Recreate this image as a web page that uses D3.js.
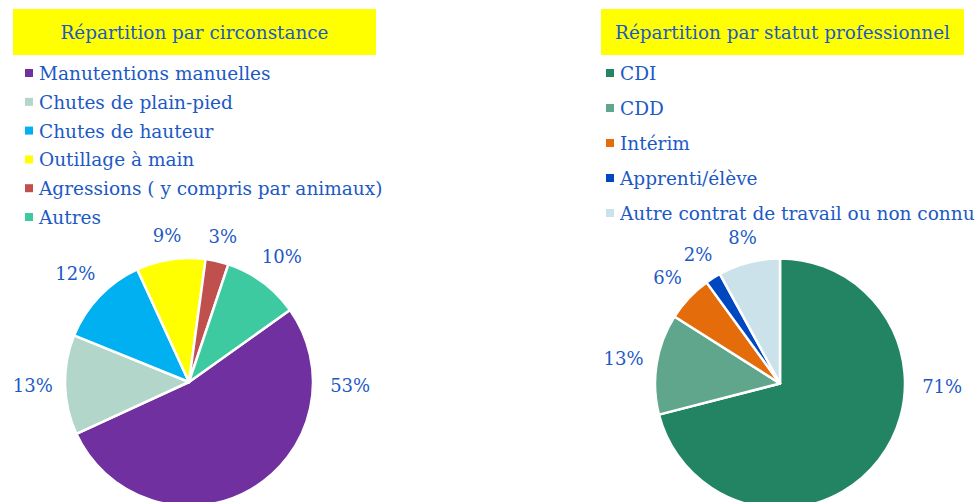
<!DOCTYPE html>
<html>
<head>
<meta charset="utf-8">
<script src="https://cdn.jsdelivr.net/npm/d3@7"></script>
<style>
  body { margin: 0; background: #fff; }
  svg text { font-family: "DejaVu Serif", "Liberation Serif", serif; fill: #1c59c6; }
</style>
</head>
<body>
<div class="container"></div>
<script>
// left chart: circonstance
var circLabels = ["Manutentions manuelles", "Chutes de plain-pied", "Chutes de hauteur",
                  "Outillage à main", "Agressions ( y compris par animaux)", "Autres"];
var circValues = [53, 13, 12, 9, 3, 10];
var circColors = ["#7030a0", "#b3d6ca", "#00b0f0", "#ffff00", "#c0504d", "#3dcaa0"];

// right chart: statut professionnel
var statLabels = ["CDI", "CDD", "Intérim", "Apprenti/élève", "Autre contrat de travail ou non connu"];
var statValues = [71, 13, 6, 2, 8];
var statColors = ["#228462", "#5fa68c", "#e46c0a", "#0048bf", "#cce2ea"];

var width = 976, height = 502;

var svg = d3.select(".container")
  .append("svg")
    .attr("width", width)
    .attr("height", height);

function buildPie(opt) {
  // yellow title box
  svg.append("rect")
    .attr("x", opt.boxX)
    .attr("y", 9)
    .attr("width", opt.boxW)
    .attr("height", 46)
    .attr("fill", "#ffff00");

  svg.append("text")
    .attr("x", opt.boxX + opt.boxW / 2)
    .attr("y", 39)
    .attr("text-anchor", "middle")
    .style("font-size", "18.4px")
    .text(opt.title);

  // legend
  var leg = svg.append("g")
    .attr("transform", "translate(" + opt.legX + "," + opt.legY + ")");

  var row = leg.selectAll("g")
    .data(opt.labels)
    .enter()
    .append("g")
    .attr("transform", function(d, i) { return "translate(0," + (i * opt.legStep) + ")"; });

  row.append("rect")
    .attr("x", 0)
    .attr("y", -4)
    .attr("width", 8)
    .attr("height", 8)
    .attr("fill", function(d, i) { return opt.colors[i]; });

  row.append("text")
    .attr("x", 14)
    .attr("y", 7)
    .style("font-size", "18.5px")
    .text(function(d) { return d; });

  // pie
  var r = opt.r;
  var pie = d3.pie()
    .sort(null)
    .startAngle(opt.start)
    .endAngle(opt.start + 2 * Math.PI)
    .value(function(d) { return d; });

  var arc = d3.arc().innerRadius(0).outerRadius(r);

  var g = svg.append("g")
    .attr("transform", "translate(" + opt.cx + "," + opt.cy + ")");

  var arcs = pie(opt.values);

  g.selectAll("path")
    .data(arcs)
    .enter()
    .append("path")
    .attr("d", arc)
    .attr("fill", function(d, i) { return opt.colors[i]; })
    .attr("stroke", "white")
    .attr("stroke-width", 2.5)
    .attr("stroke-linejoin", "round");

  // % labels at outside end: distance depends on label box size
  // bottom ones are pulled up to the right side (chart is cropped at the bottom)
  g.selectAll("text.pct")
    .data(arcs)
    .enter()
    .append("text")
    .attr("class", "pct")
    .attr("text-anchor", "middle")
    .attr("dy", "0.35em")
    .style("font-size", "18px")
    .text(function(d) { return d.value + "%"; })
    .attr("transform", function(d) {
      var a = ((d.startAngle + d.endAngle) / 2) % (2 * Math.PI);
      var gap = 12;
      if (a > Math.PI / 2 && a < Math.PI * 1.35) { a = Math.PI / 2 + 0.02; gap = 17; }
      var halfW = this.getComputedTextLength() / 2;
      var dist = r + gap + Math.abs(Math.sin(a)) * halfW + Math.abs(Math.cos(a)) * 10;
      return "translate(" + (Math.sin(a) * dist) + "," + (-Math.cos(a) * dist) + ")";
    });
}

buildPie({
  title: "Répartition par circonstance",
  boxX: 13, boxW: 363,
  labels: circLabels, values: circValues, colors: circColors,
  legX: 25, legY: 73, legStep: 28.8,
  cx: 189, cy: 382, r: 124,
  start: 54.5 * Math.PI / 180
});

buildPie({
  title: "Répartition par statut professionnel",
  boxX: 601, boxW: 363,
  labels: statLabels, values: statValues, colors: statColors,
  legX: 606, legY: 73, legStep: 35,
  cx: 780, cy: 383.5, r: 125,
  start: 0
});
</script>
</body>
</html>
